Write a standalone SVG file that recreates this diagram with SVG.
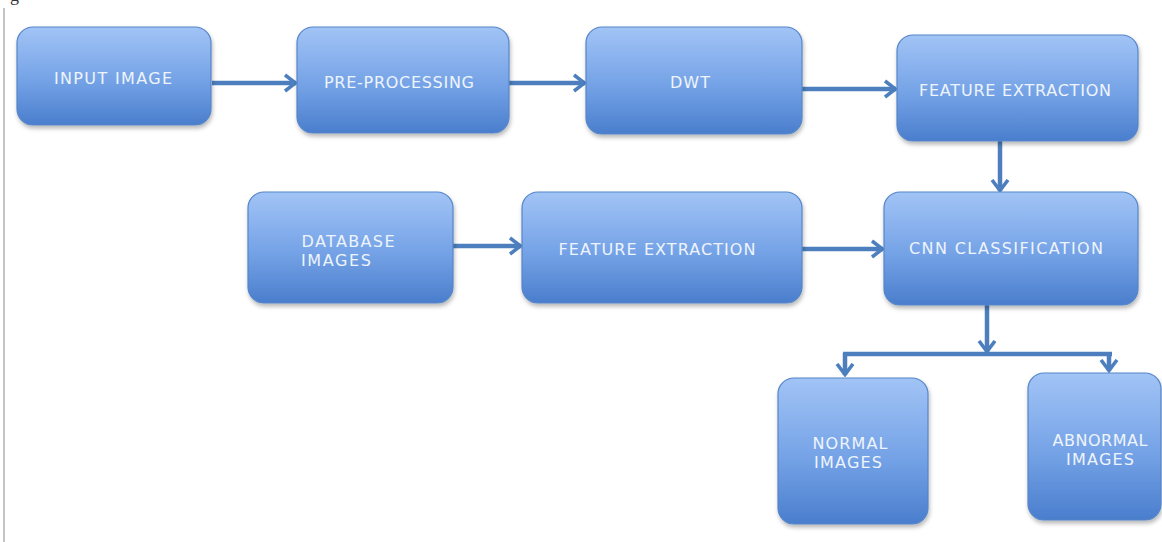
<svg xmlns="http://www.w3.org/2000/svg" width="1162" height="542" viewBox="0 0 1162 542">
<defs>
<linearGradient id="bg" x1="0" y1="0" x2="0" y2="1">
<stop offset="0" stop-color="#a2c4f6"/>
<stop offset="0.55" stop-color="#74a2e6"/>
<stop offset="1" stop-color="#4a7ecd"/>
</linearGradient>
<filter id="sh" x="-10%" y="-10%" width="125%" height="130%">
<feDropShadow dx="1" dy="3" stdDeviation="2" flood-color="#000" flood-opacity="0.28"/>
</filter>
<marker id="ah" viewBox="0 0 14 20" refX="12.5" refY="10" markerWidth="14" markerHeight="20" markerUnits="userSpaceOnUse" orient="auto">
<path d="M1.5,2 L12,10 L1.5,18" fill="none" stroke="#4d7fbf" stroke-width="3.6" stroke-linejoin="miter"/>
</marker>
<style>
.box{fill:url(#bg);stroke:#5585c8;stroke-width:1.2;filter:url(#sh)}
.lbl{font-family:"DejaVu Sans",Verdana,sans-serif;font-size:16px;fill:#eef4fc;text-anchor:middle}
.con{fill:none;stroke:#4d7fbf;stroke-width:4.5}
</style>
</defs>
<rect width="1162" height="542" fill="#ffffff"/>
<line x1="4" y1="8" x2="4" y2="542" stroke="#c4c4c4" stroke-width="2"/>
<text x="10" y="1" font-family="Liberation Serif, serif" font-size="18" fill="#333">g</text>

<g id="connectors">
<line class="con" x1="212" y1="83" x2="296" y2="83" marker-end="url(#ah)"/>
<line class="con" x1="509" y1="83" x2="585" y2="83" marker-end="url(#ah)"/>
<line class="con" x1="802" y1="89" x2="896" y2="89" marker-end="url(#ah)"/>
<line class="con" x1="1000" y1="141" x2="1000" y2="191" marker-end="url(#ah)"/>
<line class="con" x1="453" y1="246" x2="521" y2="246" marker-end="url(#ah)"/>
<line class="con" x1="802" y1="249" x2="883" y2="249" marker-end="url(#ah)"/>
<line class="con" x1="987" y1="305" x2="987" y2="352" marker-end="url(#ah)"/>
<line class="con" x1="843" y1="354" x2="1112" y2="354"/>
<line class="con" x1="845" y1="353" x2="845" y2="375" marker-end="url(#ah)"/>
<line class="con" x1="1109" y1="353" x2="1109" y2="371" marker-end="url(#ah)"/>
</g>

<g id="input-image">
<rect class="box" x="17" y="27" width="194" height="98" rx="16"/>
<text class="lbl" x="113" y="84" textLength="118" lengthAdjust="spacing">INPUT IMAGE</text>
</g>
<g id="pre-processing">
<rect class="box" x="297" y="27" width="212" height="106" rx="16"/>
<text class="lbl" x="399" y="88" textLength="150" lengthAdjust="spacing">PRE-PROCESSING</text>
</g>
<g id="dwt">
<rect class="box" x="586" y="27" width="216" height="107" rx="16"/>
<text class="lbl" x="690" y="88" textLength="40" lengthAdjust="spacing">DWT</text>
</g>
<g id="feature-extraction-1">
<rect class="box" x="897" y="35" width="241" height="106" rx="16"/>
<text class="lbl" x="1015" y="96" textLength="192" lengthAdjust="spacing">FEATURE EXTRACTION</text>
</g>
<g id="database-images">
<rect class="box" x="248" y="192" width="205" height="111" rx="16"/>
<text class="lbl" x="348" y="247" textLength="93" lengthAdjust="spacing">DATABASE</text>
<text class="lbl" x="336" y="266" textLength="70" lengthAdjust="spacing">IMAGES</text>
</g>
<g id="feature-extraction-2">
<rect class="box" x="522" y="192" width="280" height="111" rx="16"/>
<text class="lbl" x="657" y="255" textLength="197" lengthAdjust="spacing">FEATURE EXTRACTION</text>
</g>
<g id="cnn-classification">
<rect class="box" x="884" y="192" width="254" height="113" rx="16"/>
<text class="lbl" x="1006" y="254" textLength="194" lengthAdjust="spacing">CNN CLASSIFICATION</text>
</g>
<g id="normal-images">
<rect class="box" x="778" y="378" width="150" height="146" rx="16"/>
<text class="lbl" x="850" y="449" textLength="75" lengthAdjust="spacing">NORMAL</text>
<text class="lbl" x="848" y="468" textLength="68" lengthAdjust="spacing">IMAGES</text>
</g>
<g id="abnormal-images">
<rect class="box" x="1028" y="373" width="133" height="147" rx="16"/>
<text class="lbl" x="1100" y="446" textLength="95" lengthAdjust="spacing">ABNORMAL</text>
<text class="lbl" x="1100" y="465" textLength="68" lengthAdjust="spacing">IMAGES</text>
</g>
</svg>
